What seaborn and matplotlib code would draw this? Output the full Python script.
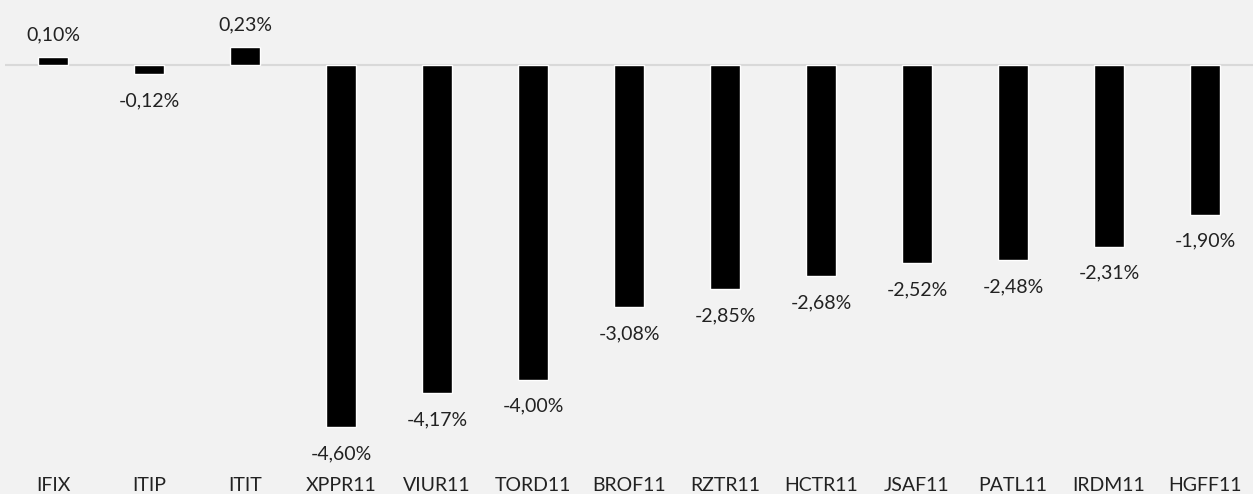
import matplotlib
matplotlib.use("Agg")
import matplotlib.pyplot as plt
import seaborn as sns
import pandas as pd

categories = ["IFIX", "ITIP", "ITIT", "XPPR11", "VIUR11", "TORD11", "BROF11",
              "RZTR11", "HCTR11", "JSAF11", "PATL11", "IRDM11", "HGFF11"]
values = [0.10, -0.12, 0.23, -4.60, -4.17, -4.00, -3.08,
          -2.85, -2.68, -2.52, -2.48, -2.31, -1.90]

sns.set_theme(style="white")
plt.rcParams["font.family"] = ["Lato", "DejaVu Sans"]

bg = "#F2F2F2"
df = pd.DataFrame({"cat": categories, "val": values})

fig = plt.figure(figsize=(12.53, 4.94), dpi=100, facecolor=bg)
ax = fig.add_axes([5 / 1253, 24 / 494, 1 - 5 / 1253, 1 - 24 / 494])
ax.set_facecolor(bg)

sns.barplot(data=df, x="cat", y="val", color="black", saturation=1,
            width=0.31, ax=ax, zorder=3)

ax.axhline(0, color="#D9D9D9", lw=1.5, zorder=2)

def fmt(v):
    return f"{v:.2f}%".replace(".", ",")

fs = 14
for i, v in enumerate(values):
    if v >= 0:
        ax.annotate(fmt(v), (i, v), xytext=(0, 10), textcoords="offset points",
                    ha="center", va="bottom", fontsize=fs, color="#222222")
    else:
        ax.annotate(fmt(v), (i, v), xytext=(0, -13), textcoords="offset points",
                    ha="center", va="top", fontsize=fs, color="#222222")

ax.set_xlim(-0.5, len(categories) - 0.5)
ax.set_ylim(-(470 - 65) / 78.7, 65 / 78.7)
ax.set_xlabel("")
ax.set_ylabel("")
ax.set_yticks([])
ax.tick_params(axis="x", length=0, pad=5, labelsize=fs, labelcolor="#222222")
for s in ax.spines.values():
    s.set_visible(False)

fig.savefig("out.png", dpi=100, facecolor=bg)
